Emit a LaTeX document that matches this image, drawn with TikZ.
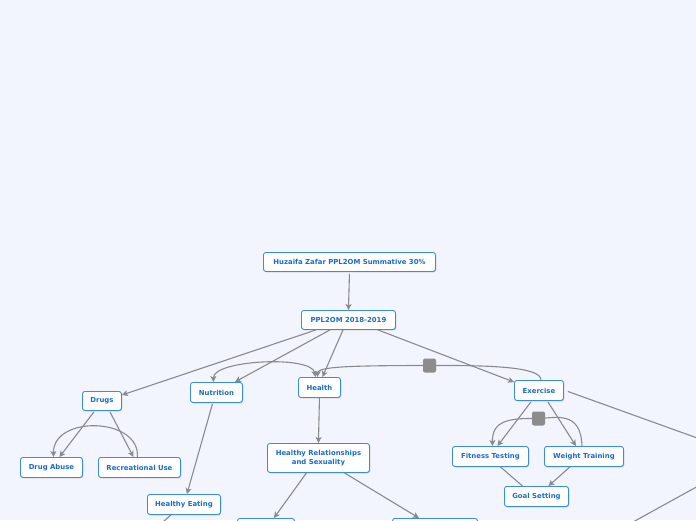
\documentclass[tikz,border=0pt]{standalone}
\usepackage{fontspec}
\setmainfont{DejaVu Sans}
\usetikzlibrary{arrows.meta,shadows}
\definecolor{bg}{HTML}{F2F5FE}
\definecolor{nodeborder}{HTML}{3A8BE8}
\definecolor{nodetext}{HTML}{1A6BCB}
\definecolor{conn}{HTML}{8A8A8E}
\definecolor{marker}{HTML}{8C8C8C}
\tikzset{
  box/.style={draw=nodeborder, line width=0.9pt, fill=white, rounded corners=2.5pt,
    text=nodetext, font=\fontsize{6.9}{8}\selectfont\bfseries, align=center,
    inner sep=0pt, anchor=north west,
    drop shadow={shadow xshift=0.8pt, shadow yshift=-0.8pt, fill=black, opacity=0.18}},
  conn/.style={draw=conn, line width=1.1pt},
  arr/.style={conn, -{Stealth[length=6pt,width=6pt,inset=1.5pt]}},
  arrb/.style={conn, {Stealth[length=6pt,width=6pt,inset=1.5pt]}-{Stealth[length=6pt,width=6pt,inset=1.5pt]}},
  marksq/.style={fill=marker, rounded corners=2pt, minimum width=13pt, minimum height=14pt, inner sep=0pt}
}
\begin{document}
\begin{tikzpicture}[x=1pt,y=-1pt]
\fill[bg] (0,0) rectangle (696,520);
\useasboundingbox (0,0) rectangle (696,520);
\clip (0,0) rectangle (696,520);

% nodes
\node[box, minimum width=172pt, minimum height=19pt] (title) at (263,252) {Huzaifa Zafar PPL2OM Summative 30\%};
\node[box, minimum width=94pt, minimum height=19pt] (root) at (301,310) {PPL2OM 2018-2019};
\node[box, minimum width=39pt, minimum height=19pt] (drugs) at (82,391) {Drugs};
\node[box, minimum width=52pt, minimum height=20pt] (nutr) at (190,382) {Nutrition};
\node[box, minimum width=42pt, minimum height=20pt] (health) at (298,377) {Health};
\node[box, minimum width=49pt, minimum height=20pt] (exer) at (514,380) {Exercise};
\node[box, minimum width=62pt, minimum height=20pt] (abuse) at (20,457) {Drug Abuse};
\node[box, minimum width=82pt, minimum height=20pt] (recr) at (98,457) {Recreational Use};
\node[box, minimum width=73pt, minimum height=20pt] (eat) at (147,494) {Healthy Eating};
\node[box, minimum width=102pt, minimum height=29pt] (hrs) at (267,443) {Healthy Relationships\\[0.5pt]and Sexuality};
\node[box, minimum width=76pt, minimum height=20pt] (fit) at (452,446) {Fitness Testing};
\node[box, minimum width=79pt, minimum height=20pt] (weight) at (544,446) {Weight Training};
\node[box, minimum width=64pt, minimum height=20pt] (goal) at (504,486) {Goal Setting};
\node[box, minimum width=57pt, minimum height=20pt] (hrsl) at (237,518) {};
\node[box, minimum width=85pt, minimum height=20pt] (hrsr) at (392,518) {};

% off-page ends
\coordinate (exout) at (700,439);
\coordinate (eatout) at (163,522);
\coordinate (brA) at (700,485);
\coordinate (brB) at (633,522);

% tree connectors
\draw[arr] (title.south) ++(0,2) -- (root.north);
\draw[arr] ([xshift=15pt]root.south west) -- ([yshift=-4pt]drugs.north east);
\draw[arr] ([xshift=29pt]root.south west) -- ([xshift=-8pt]nutr.north east);
\draw[arr] ([xshift=42pt]root.south west) -- ([xshift=3pt]health.north);
\draw[arr] ([xshift=-18pt]root.south east) -- ([yshift=-2pt]exer.north west);
\draw[conn] ([xshift=4pt,yshift=-1pt]exer.east) -- (exout);
\draw[arr] ([xshift=-8pt,yshift=-1pt]drugs.south) -- ([xshift=8pt]abuse.north);
\draw[arr] ([xshift=8pt,yshift=-1pt]drugs.south) -- ([xshift=-6pt]recr.north);
\draw[arr] ([xshift=-4pt,yshift=-1pt]nutr.south) -- ([xshift=3pt]eat.north);
\draw[conn] ([xshift=-13pt]eat.south) -- (eatout);
\draw[arr] (health.south) -- (hrs.north);
\draw[arr] ([xshift=-12pt]hrs.south) -- ([xshift=8pt]hrsl.north);
\draw[arr] ([xshift=26pt]hrs.south) -- ([xshift=-16pt]hrsr.north);
\draw[arr] ([xshift=-8pt,yshift=-1pt]exer.south) -- ([xshift=7pt]fit.north);
\draw[arr] ([xshift=9pt,yshift=-1pt]exer.south) -- ([xshift=-8pt]weight.north);
\draw[conn] ([xshift=10pt]fit.south) -- ([xshift=-14pt]goal.north);
\draw[arr] ([xshift=-14pt]weight.south) -- ([xshift=12pt]goal.north);
\draw[conn] (brA) -- (brB);

% relationships
\draw[arrb] ([xshift=-3pt]nutr.north) .. controls (213,360) and (312,355) .. ([xshift=-4pt]health.north);
\draw[conn] ([xshift=2pt]exer.north) .. controls (541,368) and (500,365) .. (429.5,365.5) coordinate (m1);
\draw[arr] (m1) .. controls (345,365.5) and (318,367) .. ([xshift=-2pt]health.north);
\node[marksq] (mk1) at (m1) {};
\draw[arr] ([xshift=-2pt]recr.north) .. controls (140,417) and (53,415) .. ([xshift=2pt]abuse.north);
\draw[conn] ([xshift=-2pt]weight.north) .. controls (581,410) and (555,418) .. (538.5,418.5) coordinate (m2);
\draw[arr] (m2) .. controls (510,418) and (492,420) .. ([xshift=2pt]fit.north);
\node[marksq] (mk2) at (m2) {};
\end{tikzpicture}
\end{document}
